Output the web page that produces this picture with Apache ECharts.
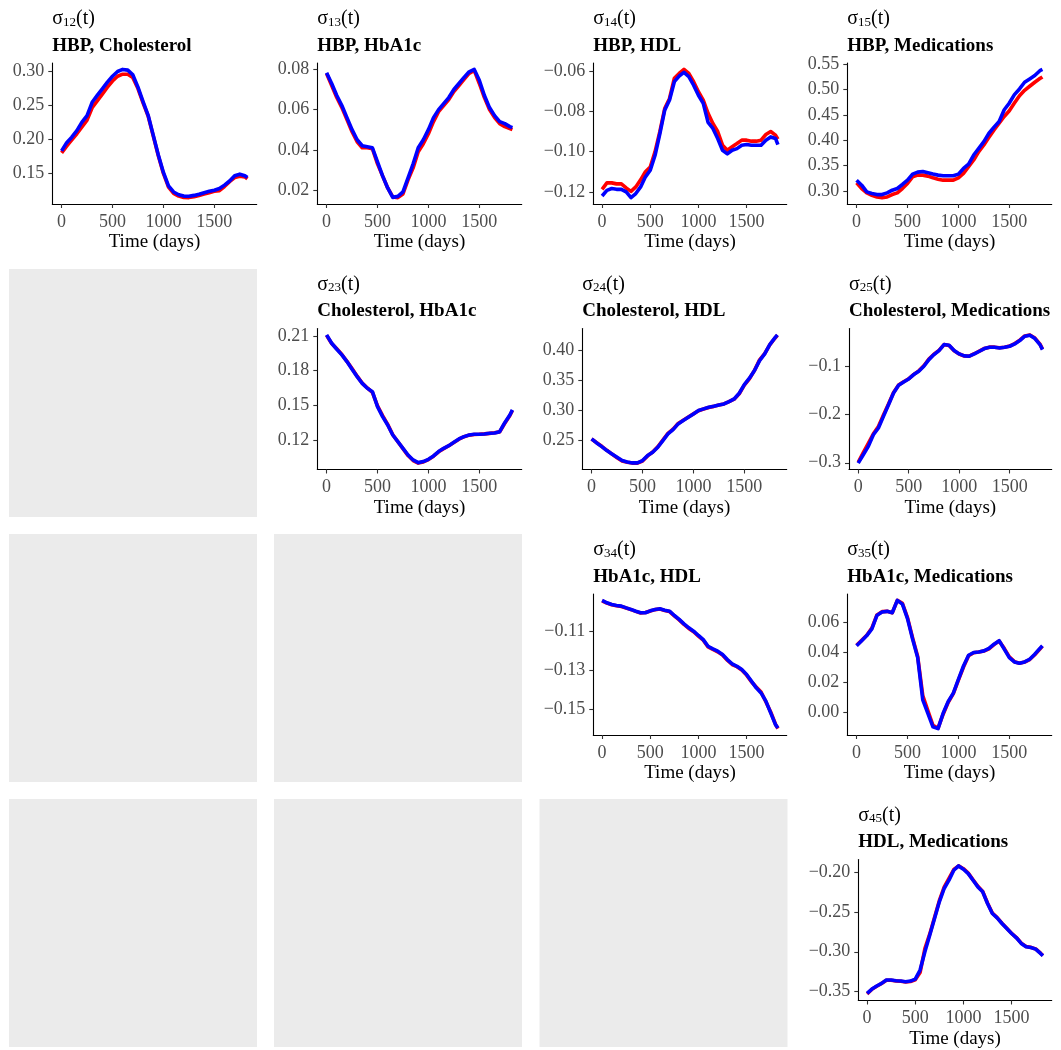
<!DOCTYPE html>
<html><head><meta charset="utf-8">
<script src="https://cdn.jsdelivr.net/npm/echarts@6/dist/echarts.min.js"></script>
<style>html,body{margin:0;padding:0;background:#fff}#c{width:1061px;height:1050px}</style>
</head><body><div id="c"></div>
<script>
// ---------- data ----------
const days = [0,50,100,150,200,250,300,350,400,450,500,550,600,650,700,750,800,850,900,950,1000,1050,1100,1150,1200,1250,1300,1350,1400,1450,1500,1550,1600,1650,1700,1750,1800,1825];
const xTicks = [0,500,1000,1500];

const s12Red  = [0.180,0.190,0.199,0.208,0.218,0.228,0.246,0.256,0.266,0.276,0.285,0.292,0.295,0.295,0.290,0.274,0.253,0.234,0.205,0.176,0.150,0.130,0.121,0.117,0.115,0.1148,0.116,0.118,0.120,0.122,0.124,0.125,0.131,0.138,0.144,0.146,0.145,0.142];
const s12Blue = [0.183,0.195,0.203,0.2125,0.225,0.2345,0.254,0.264,0.2736,0.2834,0.292,0.299,0.302,0.301,0.294,0.276,0.255,0.235,0.206,0.177,0.1515,0.132,0.123,0.119,0.117,0.1168,0.118,0.1197,0.122,0.124,0.1256,0.128,0.133,0.139,0.1466,0.149,0.1466,0.144];
const s12Ticks = ["0.15","0.20","0.25","0.30"];

const s13Red  = [0.0780,0.072,0.066,0.061,0.055,0.049,0.044,0.041,0.041,0.0405,0.033,0.027,0.021,0.0165,0.0162,0.018,0.025,0.031,0.039,0.043,0.048,0.054,0.059,0.062,0.065,0.069,0.072,0.075,0.078,0.0795,0.073,0.066,0.060,0.056,0.053,0.0515,0.0505,0.050];
const s13Blue = [0.0783,0.073,0.067,0.062,0.056,0.050,0.045,0.042,0.0415,0.041,0.034,0.027,0.021,0.0163,0.0168,0.019,0.026,0.033,0.041,0.045,0.050,0.056,0.060,0.063,0.066,0.070,0.073,0.076,0.0788,0.080,0.0746,0.067,0.061,0.057,0.054,0.053,0.0515,0.051];
const s13Ticks = ["0.02","0.04","0.06","0.08"];

const s14Red  = [-0.1187,-0.1155,-0.1155,-0.116,-0.116,-0.118,-0.1197,-0.1175,-0.114,-0.110,-0.1076,-0.100,-0.090,-0.0786,-0.0736,-0.0636,-0.0612,-0.0592,-0.0612,-0.0653,-0.0703,-0.0744,-0.081,-0.086,-0.090,-0.0968,-0.0993,-0.0976,-0.096,-0.0943,-0.0943,-0.0948,-0.0948,-0.0943,-0.0915,-0.090,-0.0918,-0.0938];
const s14Blue = [-0.122,-0.1192,-0.1183,-0.1187,-0.1187,-0.120,-0.1228,-0.1208,-0.1175,-0.1125,-0.1092,-0.1018,-0.091,-0.0794,-0.0744,-0.0653,-0.0625,-0.0607,-0.0628,-0.067,-0.072,-0.076,-0.0855,-0.0885,-0.0935,-0.0993,-0.1011,-0.0993,-0.0985,-0.0968,-0.0965,-0.0968,-0.0968,-0.0968,-0.0943,-0.0927,-0.0935,-0.0965];
const s14Ticks = ["\u22120.12","\u22120.10","\u22120.08","\u22120.06"];

const s15Red  = [0.3164,0.3053,0.2967,0.2921,0.2888,0.2875,0.2888,0.2934,0.2967,0.3053,0.3151,0.3283,0.3316,0.3316,0.3296,0.3263,0.3237,0.3217,0.3217,0.3217,0.3263,0.3349,0.348,0.3612,0.3776,0.3908,0.4059,0.4204,0.4336,0.4467,0.4579,0.473,0.4875,0.498,0.5059,0.5138,0.521,0.5243];
const s15Blue = [0.3217,0.3118,0.2987,0.2954,0.2934,0.2934,0.2967,0.302,0.3053,0.3132,0.3217,0.3336,0.3375,0.3388,0.3362,0.3336,0.3316,0.3303,0.3303,0.3303,0.3336,0.3447,0.3533,0.371,0.3842,0.3974,0.4138,0.4257,0.4368,0.4599,0.473,0.4895,0.5007,0.5138,0.5204,0.527,0.5365,0.539];
const s15Ticks = ["0.30","0.35","0.40","0.45","0.50","0.55"];

const s23Red  = [0.2105,0.2035,0.1990,0.1940,0.1880,0.1818,0.1752,0.1692,0.1650,0.1612,0.1495,0.1410,0.1335,0.1245,0.1185,0.1125,0.1065,0.1022,0.1000,0.1010,0.1030,0.1060,0.1098,0.1125,0.1150,0.1178,0.1207,0.1228,0.1242,0.1248,0.1250,0.1253,0.1257,0.1262,0.1270,0.1345,0.1412,0.1455];
const s23Blue = [0.2109,0.2037,0.1985,0.1936,0.1878,0.1812,0.1748,0.169,0.1647,0.1618,0.1488,0.1402,0.133,0.1243,0.1186,0.1128,0.107,0.1027,0.1004,0.1013,0.1033,0.1062,0.11,0.1128,0.1151,0.118,0.1209,0.1229,0.1243,0.1249,0.1249,0.1252,0.1258,0.1261,0.1272,0.135,0.1416,0.146];
const s23Ticks = ["0.12","0.15","0.18","0.21"];

const s24Red  = [0.2525,0.2465,0.2405,0.2338,0.2275,0.2215,0.2160,0.2140,0.2125,0.2125,0.2160,0.2245,0.2310,0.2395,0.2510,0.2620,0.2690,0.2785,0.2840,0.2892,0.2945,0.2998,0.3025,0.3052,0.3070,0.3092,0.3110,0.3148,0.3190,0.3280,0.3425,0.3530,0.3670,0.3845,0.3950,0.4095,0.4205,0.4255];
const s24Blue = [0.2528,0.2461,0.24,0.2333,0.2278,0.2222,0.2167,0.2144,0.2128,0.2128,0.2167,0.225,0.2306,0.2389,0.25,0.2611,0.2683,0.2778,0.2833,0.2889,0.2944,0.3,0.3028,0.3056,0.3072,0.3094,0.3111,0.315,0.3194,0.3289,0.3433,0.3539,0.3667,0.3833,0.3944,0.41,0.4211,0.4261];
const s24Ticks = ["0.25","0.30","0.35","0.40"];

const s25Red  = [-0.2990,-0.2790,-0.2600,-0.2400,-0.2250,-0.2010,-0.1780,-0.1545,-0.1390,-0.1320,-0.1260,-0.1170,-0.1095,-0.0990,-0.0850,-0.0750,-0.0670,-0.0552,-0.0568,-0.0678,-0.0746,-0.0787,-0.0790,-0.0740,-0.0685,-0.0630,-0.0604,-0.0604,-0.0618,-0.0604,-0.0580,-0.0530,-0.0460,-0.0372,-0.0350,-0.0415,-0.0540,-0.0645];
const s25Blue = [-0.3007,-0.2834,-0.266,-0.2419,-0.228,-0.2038,-0.1796,-0.1554,-0.1394,-0.1325,-0.1263,-0.1173,-0.1104,-0.1,-0.0862,-0.0758,-0.0675,-0.055,-0.0564,-0.0675,-0.0744,-0.0785,-0.0792,-0.0744,-0.0689,-0.0633,-0.0606,-0.0606,-0.062,-0.0606,-0.0585,-0.0536,-0.0467,-0.0377,-0.0356,-0.0426,-0.055,-0.0654];
const s25Ticks = ["\u22120.3","\u22120.2","\u22120.1"];

const s34Red  = [-0.0945,-0.0957,-0.0965,-0.0970,-0.0974,-0.0982,-0.0990,-0.0999,-0.1007,-0.1005,-0.0997,-0.0990,-0.0987,-0.0994,-0.1000,-0.1022,-0.1042,-0.1065,-0.1086,-0.1103,-0.1125,-0.1146,-0.1180,-0.1193,-0.1205,-0.1222,-0.1248,-0.1270,-0.1281,-0.1298,-0.1324,-0.1358,-0.1385,-0.1410,-0.1460,-0.1512,-0.1575,-0.1597];
const s34Blue = [-0.0943,-0.0955,-0.0964,-0.0969,-0.0972,-0.0981,-0.0989,-0.0998,-0.1006,-0.1006,-0.0996,-0.0989,-0.0986,-0.0993,-0.0998,-0.102,-0.104,-0.1063,-0.1083,-0.11,-0.1122,-0.1143,-0.1177,-0.119,-0.1202,-0.1219,-0.1245,-0.1267,-0.1279,-0.1296,-0.1321,-0.1355,-0.1389,-0.1415,-0.1457,-0.1517,-0.1577,-0.1594];
const s34Ticks = ["\u22120.15","\u22120.13","\u22120.11"];

const s35Red  = [0.0445,0.0478,0.0512,0.0560,0.0648,0.0670,0.0672,0.0662,0.0745,0.0725,0.0630,0.0495,0.0370,0.0110,0.0010,-0.0090,-0.0108,-0.0015,0.0065,0.0122,0.0212,0.0300,0.0375,0.0395,0.0400,0.0407,0.0422,0.0450,0.0474,0.0425,0.0368,0.0336,0.0326,0.0333,0.0350,0.0382,0.0420,0.0440];
const s35Blue = [0.0442,0.0476,0.051,0.0555,0.0645,0.0668,0.0672,0.0663,0.0745,0.072,0.0623,0.0487,0.0363,0.0081,-0.0009,-0.0099,-0.0111,-0.0009,0.007,0.0126,0.0217,0.0307,0.0379,0.0397,0.0401,0.0408,0.0424,0.0453,0.0476,0.042,0.0363,0.0334,0.0325,0.0334,0.0352,0.0386,0.0424,0.0442];
const s35Ticks = ["0.00","0.02","0.04","0.06"];

const s45Red  = [-0.3530,-0.3470,-0.3432,-0.3398,-0.3356,-0.3356,-0.3365,-0.3370,-0.3378,-0.3372,-0.3350,-0.3260,-0.2960,-0.2780,-0.2570,-0.2360,-0.2190,-0.2080,-0.1970,-0.1925,-0.1960,-0.2015,-0.2100,-0.2180,-0.2245,-0.2390,-0.2515,-0.2572,-0.2642,-0.2705,-0.2770,-0.2822,-0.2892,-0.2935,-0.2945,-0.2965,-0.3018,-0.3048];
const s45Blue = [-0.3521,-0.3467,-0.3429,-0.3396,-0.3354,-0.3354,-0.3363,-0.3367,-0.3375,-0.3367,-0.3342,-0.3229,-0.30,-0.2792,-0.2583,-0.2375,-0.2208,-0.2104,-0.1979,-0.1925,-0.1967,-0.2021,-0.2104,-0.2188,-0.225,-0.2396,-0.2521,-0.2575,-0.2646,-0.2708,-0.2771,-0.2825,-0.2896,-0.2938,-0.2946,-0.2967,-0.3021,-0.305];
const s45Ticks = ["\u22120.35","\u22120.30","\u22120.25","\u22120.20"];

const panelIds    = ["12","13","14","15","23","24","25","34","35","45"];
const panelTitles = ["HBP, Cholesterol","HBP, HbA1c","HBP, HDL","HBP, Medications","Cholesterol, HbA1c","Cholesterol, HDL","Cholesterol, Medications","HbA1c, HDL","HbA1c, Medications","HDL, Medications"];
const redSeries   = [s12Red,s13Red,s14Red,s15Red,s23Red,s24Red,s25Red,s34Red,s35Red,s45Red];
const blueSeries  = [s12Blue,s13Blue,s14Blue,s15Blue,s23Blue,s24Blue,s25Blue,s34Blue,s35Blue,s45Blue];
const yTickLabels = [s12Ticks,s13Ticks,s14Ticks,s15Ticks,s23Ticks,s24Ticks,s25Ticks,s34Ticks,s35Ticks,s45Ticks];

// ---------- layout (pixels) ----------
const plotLeft = [52.3,317.3,593.3,847.3,317.3,582.3,849,593.3,847.3,858.3];
const rowOf = [0,0,0,0,1,1,1,2,2,3];
const colOf = [0,1,2,3,1,2,3,2,3,3];
const rowTop = [63,328.5,594,859.5];
const plotH = 141;
const colRight = [257,522,787,1052];
const cellLeft = [9,274,539.5,804];
const cellTop = [4,269,534,799];
const cellSize = 248;
const FONT = '"Liberation Serif", "DejaVu Serif", serif';

const grids = [], xAxes = [], yAxes = [], series = [], graphics = [];

// gray empty cells (lower triangle)
for (let r = 0; r < 4; r++) for (let c = 0; c < r; c++) {
  graphics.push({type:'rect', shape:{x:cellLeft[c], y:cellTop[r], width:cellSize, height:cellSize}, style:{fill:'#EBEBEB'}, silent:true});
}

const toNum = s => parseFloat(s.replace('\u2212','-'));

panelIds.forEach((id, i) => {
  const r = rowOf[i], c = colOf[i];
  const left = plotLeft[i], right = colRight[c] - 0.3, top = rowTop[r];
  grids.push({left:left, top:top, width:right-left, height:plotH, containLabel:false});
  const all = redSeries[i].concat(blueSeries[i]);
  const lo = Math.min(...all), hi = Math.max(...all), pad = (hi-lo)*0.05;
  const tickVals = yTickLabels[i].map(toNum);
  const xr = days[days.length-1] - days[0];
  xAxes.push({
    type:'value', gridIndex:i, min:days[0]-xr*0.05, max:days[days.length-1]+xr*0.05,
    name:'Time (days)', nameLocation:'middle', nameGap:29,
    nameTextStyle:{fontFamily:FONT, fontSize:19, color:'#000'},
    axisLine:{show:true, onZero:false, lineStyle:{color:'#000', width:1.1}},
    axisTick:{show:true, length:4, customValues:xTicks, lineStyle:{color:'#333', width:1.1}},
    axisLabel:{show:true, margin:9, customValues:xTicks, fontFamily:FONT, fontSize:18, color:'#4D4D4D', formatter: v => String(v)},
    splitLine:{show:false}
  });
  yAxes.push({
    type:'value', gridIndex:i, min:lo-pad, max:hi+pad, scale:true,
    axisLine:{show:true, onZero:false, lineStyle:{color:'#000', width:1.1}},
    axisTick:{show:true, length:4, customValues:tickVals, lineStyle:{color:'#333', width:1.1}},
    axisLabel:{show:true, margin:8, customValues:tickVals, fontFamily:FONT, fontSize:18, color:'#4D4D4D',
      formatter: v => { let k = tickVals.findIndex(t => Math.abs(t-v) < 1e-9); return k >= 0 ? yTickLabels[i][k] : ''; }},
    splitLine:{show:false}
  });
  series.push({type:'line', xAxisIndex:i, yAxisIndex:i, data:days.map((d,k)=>[d, redSeries[i][k]]),
    showSymbol:false, symbol:'none', lineStyle:{color:'#FF0000', width:3.6, join:'round'}, z:2, silent:true});
  series.push({type:'line', xAxisIndex:i, yAxisIndex:i, data:days.map((d,k)=>[d, blueSeries[i][k]]),
    showSymbol:false, symbol:'none', lineStyle:{color:'#0000FF', width:3.6, join:'round'}, z:3, silent:true});
  // titles
  graphics.push({type:'text', x:left, y:top-46, silent:true, style:{
    text:'{a|\u03C3}{b|' + id + '}{a|(t)}', fill:'#000', align:'left', verticalAlign:'middle',
    textAlign:'left', textVerticalAlign:'middle',
    rich:{a:{fontFamily:FONT, fontSize:20, lineHeight:24, verticalAlign:'bottom', fill:'#000'},
          b:{fontFamily:FONT, fontSize:13, lineHeight:10, verticalAlign:'bottom', fill:'#000'}}
  }});
  graphics.push({type:'text', x:left, y:top-17, silent:true, style:{
    text:panelTitles[i], fill:'#000', font:'bold 19px ' + FONT, align:'left', verticalAlign:'middle',
    textAlign:'left', textVerticalAlign:'middle'
  }});
});

const chart = echarts.init(document.getElementById('c'), null, {renderer:'canvas'});
chart.setOption({
  animation:false,
  backgroundColor:'#fff',
  grid:grids, xAxis:xAxes, yAxis:yAxes, series:series,
  graphic:graphics
});
</script>
</body></html>
